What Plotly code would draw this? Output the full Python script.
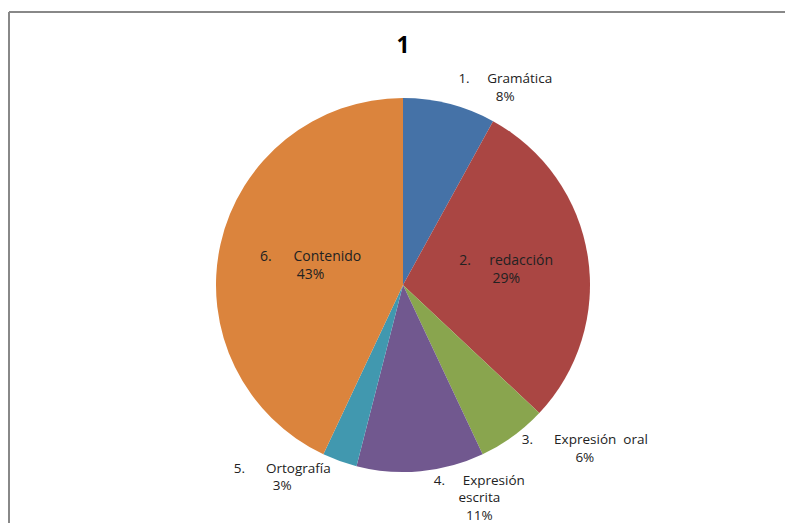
import plotly.graph_objects as go

categories = ["1.     Gramática", "2.     redacción", "3.      Expresión  oral",
              "4.     Expresión<br>escrita", "5.      Ortografía", "6.      Contenido"]
values = [8, 29, 6, 11, 3, 43]
colors = ["#4572A7", "#AA4643", "#89A54E", "#71588F", "#4198AF", "#DB843D"]
positions = ["outside", "inside", "outside", "outside", "outside", "inside"]

W, H = 785, 523
dx0, dx1, dy0, dy1 = 216, 590, 98, 472
FONT = "Open Sans, Lato, sans-serif"

fig = go.Figure(go.Pie(
    labels=categories,
    values=values,
    sort=False,
    direction="clockwise",
    rotation=0,
    marker=dict(colors=colors, line=dict(width=0)),
    texttemplate="%{label}<br>%{percent:.0%}",
    textposition=positions,
    insidetextorientation="horizontal",
    textfont=dict(family=FONT, size=14, color="#222"),
    outsidetextfont=dict(family=FONT, size=13.5, color="#222"),
    insidetextfont=dict(family=FONT, size=14, color="#222"),
    showlegend=False,
    hoverinfo="label+percent",
    domain=dict(x=[dx0 / W, dx1 / W], y=[1 - dy1 / H, 1 - dy0 / H]),
))

fig.update_layout(
    width=W, height=H,
    autosize=False,
    margin=dict(l=0, r=0, t=0, b=0, pad=0, autoexpand=False),
    paper_bgcolor="white",
    title=dict(text="<b>1</b>", x=403 / W, xanchor="center", y=1 - 45 / H, yanchor="middle",
               font=dict(family=FONT, size=23, color="#000")),
    shapes=[
        dict(type="line", xref="paper", yref="paper", x0=9 / W, x1=1, y0=1 - 12 / H, y1=1 - 12 / H,
             line=dict(color="#888888", width=2)),
        dict(type="line", xref="paper", yref="paper", x0=9 / W, x1=9 / W, y0=0, y1=1 - 12 / H,
             line=dict(color="#888888", width=2)),
    ],
)

fig.write_html("out.html", config={"displayModeBar": False},
               post_script="document.body.style.margin='0';document.body.style.overflow='hidden';")
